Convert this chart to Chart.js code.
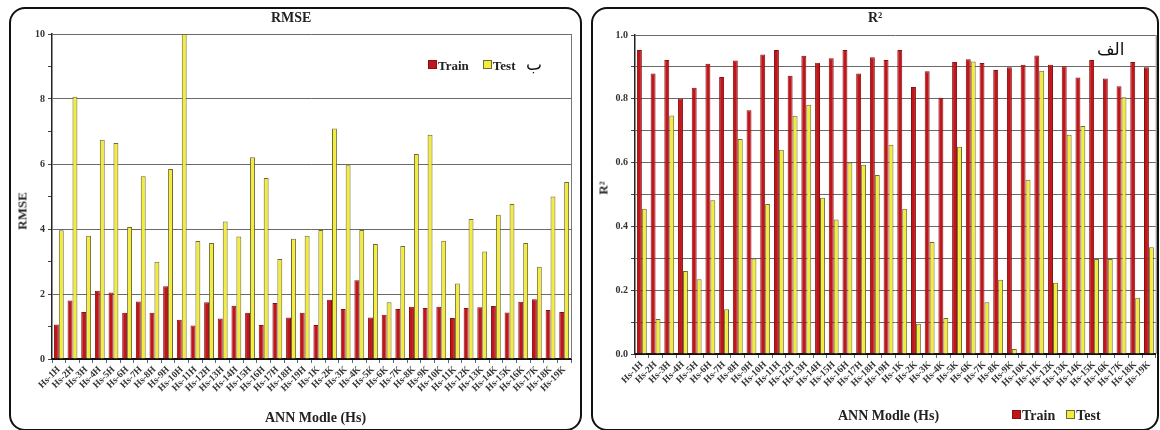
<!DOCTYPE html>
<html>
<head>
<meta charset="utf-8">
<script src="https://cdn.jsdelivr.net/npm/chart.js@4/dist/chart.umd.min.js"></script>
<style>
  html,body{margin:0;padding:0;background:#fff;width:1160px;height:430px;overflow:hidden}
  .panel{position:absolute;box-sizing:border-box;border:2px solid #111;border-radius:16px;background:#fff}
  canvas{position:absolute}
  .txt{position:absolute;font-family:"Liberation Serif",serif;font-weight:bold;color:#222;white-space:nowrap;line-height:1}
  .ar{position:absolute;font-family:"DejaVu Sans",sans-serif;color:#111;font-size:17px;line-height:1;white-space:nowrap}
  .sq{display:inline-block;width:7px;height:7px;border:1px solid #555;margin-right:1px;vertical-align:1px}
  .gap{display:inline-block;width:14px}
</style>
</head>
<body>
<div class="panel" style="left:9px;top:7px;width:573px;height:424px"></div>
<div class="panel" style="left:591px;top:7px;width:568px;height:424px"></div>

<canvas id="rmseChart" width="570" height="418" style="left:10px;top:9px"></canvas>
<canvas id="r2Chart" width="566" height="418" style="left:592px;top:9px"></canvas>

<!-- left panel texts -->
<div class="txt" style="left:271px;top:11px;font-size:14px">RMSE</div>
<div class="txt" style="left:22px;top:211px;font-size:13px;transform:translate(-50%,-50%) rotate(-90deg)">RMSE</div>
<div class="txt" style="left:265px;top:411px;font-size:14px">ANN Modle (Hs)</div>
<div class="txt" style="left:428px;top:59px;font-size:13px"><span class="sq" style="background:#c0161b;border-color:#8a0f10"></span>Train<span class="gap"></span><span class="sq" style="background:#f3ec3c;border-color:#6d6a35"></span>Test</div>
<div class="ar" style="left:526px;top:56px">ب</div>

<!-- right panel texts -->
<div class="txt" style="left:868px;top:11px;font-size:14px">R²</div>
<div class="txt" style="left:603px;top:188px;font-size:13px;transform:translate(-50%,-50%) rotate(-90deg)">R²</div>
<div class="txt" style="left:838px;top:409px;font-size:14px">ANN Modle (Hs)</div>
<div class="txt" style="left:1012px;top:409px;font-size:14px"><span class="sq" style="background:#c0161b;border-color:#8a0f10"></span>Train<span class="gap" style="width:11px"></span><span class="sq" style="background:#f3ec3c;border-color:#6d6a35"></span>Test</div>
<div class="ar" style="left:1097px;top:41px">الف</div>

<script>
// model names: 19 H-type and 19 K-type networks
const models = ['Hs-1H','Hs-2H','Hs-3H','Hs-4H','Hs-5H','Hs-6H','Hs-7H','Hs-8H','Hs-9H','Hs-10H',
  'Hs-11H','Hs-12H','Hs-13H','Hs-14H','Hs-15H','Hs-16H','Hs-17H','Hs-18H','Hs-19H',
  'Hs-1K','Hs-2K','Hs-3K','Hs-4K','Hs-5K','Hs-6K','Hs-7K','Hs-8K','Hs-9K','Hs-10K',
  'Hs-11K','Hs-12K','Hs-13K','Hs-14K','Hs-15K','Hs-16K','Hs-17K','Hs-18K','Hs-19K'];

const rmseTrain = [1.06,1.80,1.45,2.10,2.05,1.42,1.77,1.42,2.24,1.21,
  1.03,1.75,1.25,1.64,1.42,1.05,1.72,1.28,1.42,
  1.05,1.82,1.54,2.42,1.28,1.36,1.54,1.61,1.57,1.61,
  1.26,1.57,1.59,1.63,1.43,1.76,1.84,1.51,1.45];
const rmseTest = [3.96,8.07,3.79,6.75,6.65,4.06,5.62,2.99,5.85,10.0,
  3.63,3.57,4.23,3.77,6.21,5.57,3.08,3.70,3.79,
  3.97,7.09,5.96,3.97,3.54,1.75,3.48,6.31,6.90,3.64,
  2.32,4.31,3.31,4.44,4.77,3.57,2.84,5.00,5.45];

const r2Train = [0.953,0.879,0.922,0.801,0.835,0.910,0.868,0.920,0.764,0.939,
  0.953,0.872,0.935,0.913,0.927,0.953,0.879,0.930,0.922,
  0.953,0.837,0.886,0.803,0.915,0.924,0.912,0.890,0.899,0.907,
  0.936,0.907,0.902,0.867,0.922,0.864,0.839,0.915,0.899];
const r2Test = [0.455,0.110,0.748,0.260,0.234,0.482,0.140,0.674,0.299,0.470,
  0.640,0.747,0.781,0.490,0.422,0.600,0.593,0.561,0.656,
  0.455,0.095,0.351,0.113,0.650,0.917,0.162,0.233,0.016,0.546,
  0.888,0.223,0.687,0.715,0.298,0.298,0.805,0.176,0.335];

const rmseTickLabels = ['0','2','4','6','8','10'];
const r2TickLabels = ['0.0','0.2','0.4','0.6','0.8','1.0'];

const RED = '#c0161b', RED_EDGE = '#8a0f10';
const YEL = '#f3ec3c', YEL_EDGE = '#6d6a35';
const SERIF = '"Liberation Serif", serif';

// right edge of the plot box
const frame = {
  id: 'frame',
  afterDraw(chart){
    const {ctx, chartArea:a} = chart;
    ctx.save();
    ctx.strokeStyle = '#777';
    ctx.lineWidth = 1;
    ctx.beginPath();
    ctx.moveTo(a.right + 0.5, a.top);
    ctx.lineTo(a.right + 0.5, a.bottom);
    ctx.stroke();
    ctx.restore();
  }
};

function makeChart(id, train, test, yOpts, pad, yWidth, xHeight){
  return new Chart(document.getElementById(id), {
    type: 'bar',
    data: {
      labels: models,
      datasets: [
        {label:'Train', data:train, backgroundColor:RED, borderColor:RED_EDGE, borderWidth:1},
        {label:'Test', data:test, backgroundColor:YEL, borderColor:YEL_EDGE, borderWidth:1}
      ]
    },
    options: {
      responsive: false,
      animation: false,
      devicePixelRatio: 1,
      layout: {padding: pad},
      datasets: {bar: {categoryPercentage: 0.72, barPercentage: 1.0}},
      plugins: {legend:{display:false}, title:{display:false}, tooltip:{enabled:false}},
      scales: {
        x: {
          offset: true,
          grid: {display:true, drawOnChartArea:false, offset:true, tickLength:4, color:'#666'},
          border: {color:'#111', width:2},
          ticks: {autoSkip:false, minRotation:45, maxRotation:45, padding:1,
                  color:'#333', font:{family:SERIF, weight:'bold', size:9.5}},
          afterFit: s => { s.height = xHeight; }
        },
        y: Object.assign({
          border: {color:'#222', width:1.5},
          afterFit: s => { s.width = yWidth; }
        }, yOpts)
      }
    },
    plugins: [frame]
  });
}

makeChart('rmseChart', rmseTrain, rmseTest, {
  min: 0, max: 10,
  ticks: {stepSize:1, padding:3, color:'#333', font:{family:SERIF, weight:'bold', size:10},
          callback: (v) => v % 2 === 0 ? rmseTickLabels[v / 2] : ''},
  grid: {color: c => (c.tick && c.tick.value % 2 === 0) ? '#6a6a6a' : 'rgba(0,0,0,0)',
         tickColor:'#444', tickLength:4}
}, {left:0, right:9, top:25, bottom:0}, 42, 68);

makeChart('r2Chart', r2Train, r2Test, {
  min: 0, max: 1,
  ticks: {stepSize:0.1, padding:3, color:'#333', font:{family:SERIF, weight:'bold', size:10},
          callback: (v, i) => i % 2 === 0 ? r2TickLabels[i / 2] : ''},
  grid: {color:'#6a6a6a', tickColor:'#444', tickLength:4}
}, {left:0, right:2, top:26, bottom:0}, 43, 73);
</script>
</body>
</html>
